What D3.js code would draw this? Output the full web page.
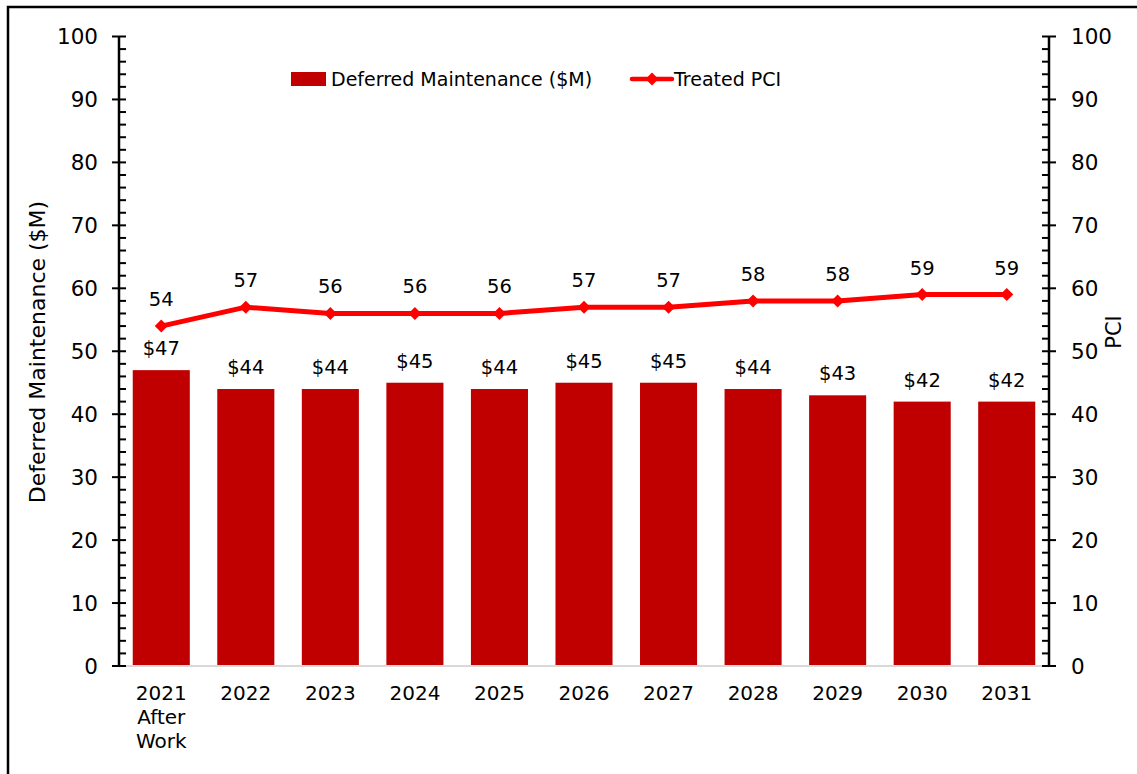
<!DOCTYPE html>
<html>
<head>
<meta charset="utf-8">
<script src="https://cdn.jsdelivr.net/npm/d3@7"></script>
<style>
  body { margin: 0; background: #fff; }
  text { font-family: "DejaVu Sans", Verdana, sans-serif; fill: #000; }
</style>
</head>
<body>
<div id="chart"></div>
<script>
var categories = [["2021", "After", "Work"], ["2022"], ["2023"], ["2024"], ["2025"], ["2026"], ["2027"], ["2028"], ["2029"], ["2030"], ["2031"]];
var deferredMaint = [47, 44, 44, 45, 44, 45, 45, 44, 43, 42, 42];
var treatedPCI = [54, 57, 56, 56, 56, 57, 57, 58, 58, 59, 59];
var yTicks = [0, 10, 20, 30, 40, 50, 60, 70, 80, 90, 100];

var width = 1137, height = 774;
var plotLeft = 119, plotRight = 1049, plotTop = 36.5, plotBottom = 666;

var svg = d3.select("#chart").append("svg")
  .attr("width", width)
  .attr("height", height);

svg.append("rect").attr("width", width).attr("height", height).attr("fill", "white");

// outer frame (only left + top visible)
svg.append("path")
  .attr("d", "M8," + height + "V7H" + width)
  .attr("fill", "none")
  .attr("stroke", "black")
  .attr("stroke-width", 2.5);

var x = d3.scaleBand()
  .domain(d3.range(categories.length))
  .range([plotLeft, plotRight])
  .paddingInner(0.325)
  .paddingOuter(0.1625);

var y = d3.scaleLinear().domain([0, 100]).range([plotBottom, plotTop]);

// bars
svg.selectAll(".bar")
  .data(deferredMaint)
  .enter().append("rect")
  .attr("class", "bar")
  .attr("x", function(d, i) { return x(i); })
  .attr("y", function(d) { return y(d); })
  .attr("width", x.bandwidth())
  .attr("height", function(d) { return y(0) - y(d); })
  .attr("fill", "#c00000");

// category axis line
svg.append("line")
  .attr("x1", plotLeft).attr("x2", plotRight)
  .attr("y1", plotBottom).attr("y2", plotBottom)
  .attr("stroke", "#d9d9d9")
  .attr("stroke-width", 2);

// category labels
var catLabels = svg.selectAll(".cat")
  .data(categories)
  .enter().append("text")
  .attr("class", "cat")
  .attr("text-anchor", "middle")
  .attr("font-size", 20)
  .attr("transform", function(d, i) { return "translate(" + (x(i) + x.bandwidth() / 2) + ",700)"; });

catLabels.selectAll("tspan")
  .data(function(d) { return d; })
  .enter().append("tspan")
  .attr("x", 0)
  .attr("y", function(d, j) { return j * 24; })
  .text(function(d) { return d; });

// value axes with major + minor ticks
function drawAxis(ax, side) {
  var g = svg.append("g");
  g.append("line")
    .attr("x1", ax).attr("x2", ax)
    .attr("y1", y(100)).attr("y2", y(0))
    .attr("stroke", "black").attr("stroke-width", 2.5);
  var minor = d3.range(0, 101, 2).filter(function(v) { return v % 10 !== 0; });
  g.selectAll(".minor").data(minor).enter().append("line")
    .attr("x1", ax).attr("x2", ax + side * 7)
    .attr("y1", function(d) { return y(d); })
    .attr("y2", function(d) { return y(d); })
    .attr("stroke", "black").attr("stroke-width", 2);
  g.selectAll(".major").data(yTicks).enter().append("line")
    .attr("x1", ax - 7).attr("x2", ax + 7)
    .attr("y1", function(d) { return y(d); })
    .attr("y2", function(d) { return y(d); })
    .attr("stroke", "black").attr("stroke-width", 2);
  g.selectAll(".lbl").data(yTicks).enter().append("text")
    .attr("x", side > 0 ? ax - 21 : ax + 22)
    .attr("y", function(d) { return y(d); })
    .attr("dy", "0.36em")
    .attr("text-anchor", side > 0 ? "end" : "start")
    .attr("font-size", 21.5)
    .text(function(d) { return d; });
}
drawAxis(plotLeft, 1);
drawAxis(plotRight, -1);

// axis titles
svg.append("text")
  .attr("transform", "translate(45," + 352 + ") rotate(-90)")
  .attr("text-anchor", "middle")
  .attr("font-size", 22)
  .text("Deferred Maintenance ($M)");

svg.append("text")
  .attr("transform", "translate(1121," + 332 + ") rotate(-90)")
  .attr("text-anchor", "middle")
  .attr("font-size", 21)
  .text("PCI");

// PCI line
var line = d3.line()
  .x(function(d, i) { return x(i) + x.bandwidth() / 2; })
  .y(function(d) { return y(d); });

svg.append("path")
  .datum(treatedPCI)
  .attr("d", line)
  .attr("fill", "none")
  .attr("stroke", "#ff0000")
  .attr("stroke-width", 5)
  .attr("stroke-linejoin", "round");

var diamond = "M0,-6.5L6.5,0L0,6.5L-6.5,0Z";
svg.selectAll(".pt")
  .data(treatedPCI)
  .enter().append("path")
  .attr("class", "pt")
  .attr("d", diamond)
  .attr("transform", function(d, i) { return "translate(" + (x(i) + x.bandwidth() / 2) + "," + y(d) + ")"; })
  .attr("fill", "#ff0000");

// data labels
svg.selectAll(".pciLbl")
  .data(treatedPCI)
  .enter().append("text")
  .attr("x", function(d, i) { return x(i) + x.bandwidth() / 2; })
  .attr("y", function(d) { return y(d) - 20; })
  .attr("text-anchor", "middle")
  .attr("font-size", 19.5)
  .text(function(d) { return d; });

svg.selectAll(".barLbl")
  .data(deferredMaint)
  .enter().append("text")
  .attr("x", function(d, i) { return x(i) + x.bandwidth() / 2; })
  .attr("y", function(d) { return y(d) - 15; })
  .attr("text-anchor", "middle")
  .attr("font-size", 19.5)
  .text(function(d) { return "$" + d; });

// legend
var legend = svg.append("g");
legend.append("rect")
  .attr("x", 291).attr("y", 72)
  .attr("width", 35).attr("height", 14)
  .attr("fill", "#c00000");
legend.append("text")
  .attr("x", 331).attr("y", 86)
  .attr("font-size", 19)
  .text("Deferred Maintenance ($M)");
legend.append("line")
  .attr("x1", 632).attr("x2", 672)
  .attr("y1", 79).attr("y2", 79)
  .attr("stroke", "#ff0000").attr("stroke-width", 4.5)
  .attr("stroke-linecap", "round");
legend.append("path")
  .attr("d", diamond)
  .attr("transform", "translate(652,79)")
  .attr("fill", "#ff0000");
legend.append("text")
  .attr("x", 674).attr("y", 86)
  .attr("font-size", 19)
  .text("Treated PCI");
</script>
</body>
</html>
